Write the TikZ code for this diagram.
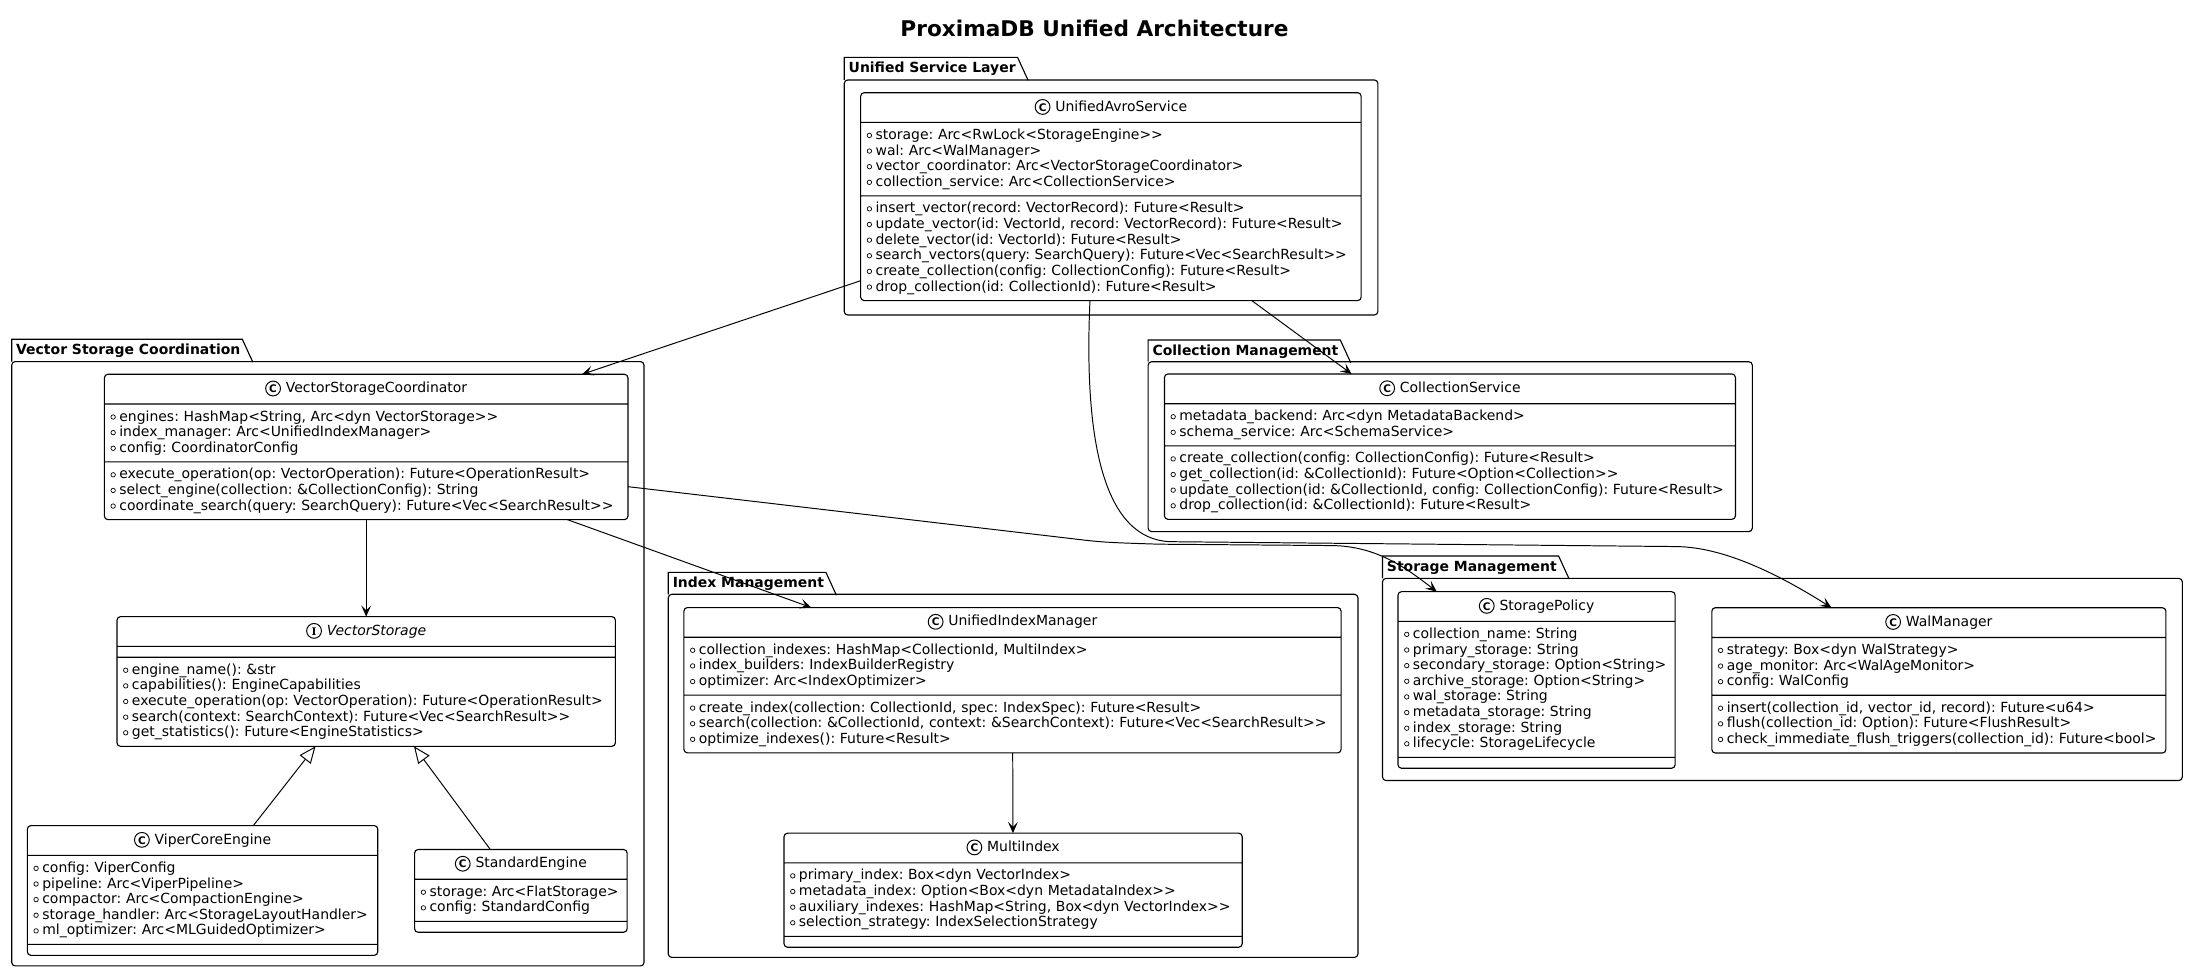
\documentclass[tikz,border=0pt]{standalone}
\usepackage{fontspec}
\setmainfont{DejaVu Sans}
\newfontfamily\iconserif{DejaVu Serif}
\usetikzlibrary{shapes.multipart,arrows.meta}
\setlength{\parindent}{0pt}
\frenchspacing

% text sizes and rows of the class boxes
\newcommand\umlfont{\fontsize{10}{11.2}\selectfont}
\newcommand\umlstrut{\rule[-2.9pt]{0pt}{11.2pt}}
\newcommand\headstrut{\rule[-4.2pt]{0pt}{13.5pt}}
\newcommand\dblgt{>\kern0pt>}
% one member line with its small circle
\newcommand\mem[1]{\umlstrut\kern1.4pt\tikz[baseline={(0,-2.9pt)}]\draw[line width=0.5pt] (0,0) circle (1.6pt);\kern2.6pt\mbox{#1}}
% class header: circled letter and name
\newcommand\uhead[2]{\headstrut\makebox[\hsize]{\tikz[baseline={(0,-3pt)}]\draw[line width=0.7pt] (0,0) circle (5.3pt);\llap{\makebox[11.3pt]{\fontsize{7.5}{7.5}\selectfont\bfseries #1}}\hspace{3.5pt}#2}}
% package: name, label, x0, tab top, body top, x1, y1
\newcommand\umlpackage[7]{%
  \draw[pkgline, rounded corners=2.5pt] (#3,#5) rectangle (#6,#7);
  \node[pkglabel] (#1) at (#3,#4) {#2};
  \draw[pkgline] (#3,#5) -- (#3,#4) -- ([xshift=-1.8pt]#1.north east) -- ([xshift=5.7pt]#1.south east);
}

\begin{document}
\begin{tikzpicture}[x=1pt, y=-1pt,
  umlclass/.style = {rectangle split, rectangle split parts=3, draw, fill=white, line width=0.8pt,
    rounded corners=2.5pt, inner xsep=3pt, inner ysep=3.5pt, outer sep=0pt, align=left,
    anchor=north west, font=\umlfont},
  pkgline/.style = {draw, line width=0.8pt},
  pkglabel/.style = {anchor=north west, inner xsep=3pt, inner ysep=0pt, minimum height=16pt,
    font=\bfseries\fontsize{10}{12}\selectfont},
  dep/.style = {-{Stealth[length=8pt,width=7pt,inset=3.5pt]}, line width=0.7pt},
  ext/.style = {-{Triangle[open,length=12pt,width=10pt,fill=white]}, line width=0.7pt}]
\fill[white] (0,0) rectangle (1568,696);
\useasboundingbox (0,0) rectangle (1568,696);

\node[font=\bfseries\fontsize{15.5}{18}\selectfont] (title) at (784,20.3) {ProximaDB Unified Architecture};

% packages
\umlpackage{usl}{Unified Service Layer}{604.7}{41.1}{57.3}{987}{225.6}
\umlpackage{vsp}{Vector Storage Coordination}{8.4}{243}{259}{461.3}{691.9}
\umlpackage{csp}{Collection Management}{822.4}{243.5}{259.1}{1255.2}{380.8}
\umlpackage{imp}{Index Management}{478.7}{410}{425.7}{972.7}{685.8}
\umlpackage{smp}{Storage Management}{990.3}{398.3}{414.3}{1563.2}{559.1}

% classes
\node[umlclass, text width=352.5pt] (uas) at (616.5,66.4) {\uhead{C}{UnifiedAvroService}
  \nodepart{two}\mem{storage: Arc<RwLock<StorageEngine\dblgt}\\
  \mem{wal: Arc<WalManager>}\\
  \mem{vector\_coordinator: Arc<VectorStorageCoordinator>}\\
  \mem{collection\_service: Arc<CollectionService>}
  \nodepart{three}\mem{insert\_vector(record: VectorRecord): Future<Result>}\\
  \mem{update\_vector(id: VectorId, record: VectorRecord): Future<Result>}\\
  \mem{delete\_vector(id: VectorId): Future<Result>}\\
  \mem{search\_vectors(query: SearchQuery): Future<Vec<SearchResult\dblgt}\\
  \mem{create\_collection(config: CollectionConfig): Future<Result>}\\
  \mem{drop\_collection(id: CollectionId): Future<Result>}};

\node[umlclass, text width=369pt] (vsc) at (74.8,268.1) {\uhead{C}{VectorStorageCoordinator}
  \nodepart{two}\mem{engines: HashMap<String, Arc<dyn VectorStorage\dblgt}\\
  \mem{index\_manager: Arc<UnifiedIndexManager>}\\
  \mem{config: CoordinatorConfig}
  \nodepart{three}\mem{execute\_operation(op: VectorOperation): Future<OperationResult>}\\
  \mem{select\_engine(collection: \&CollectionConfig): String}\\
  \mem{coordinate\_search(query: SearchQuery): Future<Vec<SearchResult\dblgt}};

\node[umlclass, text width=351pt] (vs) at (83.8,441.7) {\uhead{\iconserif I}{\textit{VectorStorage}}
  \nodepart{two}
  \nodepart{three}\mem{engine\_name(): \&str}\\
  \mem{capabilities(): EngineCapabilities}\\
  \mem{execute\_operation(op: VectorOperation): Future<OperationResult>}\\
  \mem{search(context: SearchContext): Future<Vec<SearchResult\dblgt}\\
  \mem{get\_statistics(): Future<EngineStatistics>}};

\node[umlclass, text width=245pt] (vce) at (19.6,591.4) {\uhead{C}{ViperCoreEngine}
  \nodepart{two}\mem{config: ViperConfig}\\
  \mem{pipeline: Arc<ViperPipeline>}\\
  \mem{compactor: Arc<CompactionEngine>}\\
  \mem{storage\_handler: Arc<StorageLayoutHandler>}\\
  \mem{ml\_optimizer: Arc<MLGuidedOptimizer>}
  \nodepart{three}};

\node[umlclass, text width=146.2pt] (se) at (297,608.5) {\uhead{C}{StandardEngine}
  \nodepart{two}\mem{storage: Arc<FlatStorage>}\\
  \mem{config: StandardConfig}
  \nodepart{three}};

\node[umlclass, text width=403pt] (cs) at (834.1,267.9) {\uhead{C}{CollectionService}
  \nodepart{two}\mem{metadata\_backend: Arc<dyn MetadataBackend>}\\
  \mem{schema\_service: Arc<SchemaService>}
  \nodepart{three}\mem{create\_collection(config: CollectionConfig): Future<Result>}\\
  \mem{get\_collection(id: \&CollectionId): Future<Option<Collection\dblgt}\\
  \mem{update\_collection(id: \&CollectionId, config: CollectionConfig): Future<Result>}\\
  \mem{drop\_collection(id: \&CollectionId): Future<Result>}};

\node[umlclass, text width=464.7pt] (uim) at (489.9,435.2) {\uhead{C}{UnifiedIndexManager}
  \nodepart{two}\mem{collection\_indexes: HashMap<CollectionId, MultiIndex>}\\
  \mem{index\_builders: IndexBuilderRegistry}\\
  \mem{optimizer: Arc<IndexOptimizer>}
  \nodepart{three}\mem{create\_index(collection: CollectionId, spec: IndexSpec): Future<Result>}\\
  \mem{search(collection: \&CollectionId, context: \&SearchContext): Future<Vec<SearchResult\dblgt}\\
  \mem{optimize\_indexes(): Future<Result>}};

\node[umlclass, text width=322.2pt] (mi) at (561.6,596.8) {\uhead{C}{MultiIndex}
  \nodepart{two}\mem{primary\_index: Box<dyn VectorIndex>}\\
  \mem{metadata\_index: Option<Box<dyn MetadataIndex\dblgt}\\
  \mem{auxiliary\_indexes: HashMap<String, Box<dyn VectorIndex\dblgt}\\
  \mem{selection\_strategy: IndexSelectionStrategy}
  \nodepart{three}};

\node[umlclass, text width=192.5pt] (sp) at (1001.4,423.8) {\uhead{C}{StoragePolicy}
  \nodepart{two}\mem{collection\_name: String}\\
  \mem{primary\_storage: String}\\
  \mem{secondary\_storage: Option<String>}\\
  \mem{archive\_storage: Option<String>}\\
  \mem{wal\_storage: String}\\
  \mem{metadata\_storage: String}\\
  \mem{index\_storage: String}\\
  \mem{lifecycle: StorageLifecycle}
  \nodepart{three}};

\node[umlclass, text width=319.2pt] (wm) at (1226.2,435.3) {\uhead{C}{WalManager}
  \nodepart{two}\mem{strategy: Box<dyn WalStrategy>}\\
  \mem{age\_monitor: Arc<WalAgeMonitor>}\\
  \mem{config: WalConfig}
  \nodepart{three}\mem{insert(collection\_id, vector\_id, record): Future<u64>}\\
  \mem{flush(collection\_id: Option): Future<FlushResult>}\\
  \mem{check\_immediate\_flush\_triggers(collection\_id): Future<bool>}};

% connectors
\draw[dep] (uas) -- (vsc);
\draw[dep] (uas) -- (cs);
\draw[dep] (vsc) -- (vs);
\draw[dep] (vsc) -- (uim);
\draw[dep] (uim) -- (mi);
\draw[ext] (vce) -- (vs);
\draw[ext] (se) -- (vs);
\draw[dep] ([xshift=164.25pt]uas.south west) .. controls (776,320) and (792,386) .. (838,388)
  -- (1200,391.5) .. controls (1235,391.6) and (1275,412) .. ([xshift=85.7pt]wm.north west);
\draw[dep] ([yshift=-80.5pt]vsc.north east) -- (765,385.5) .. controls (790,388.5) .. (830,389.8)
  -- (955,390.8) .. controls (985,391.5) and (1005,405) .. ([xshift=27.75pt]sp.north west);
\end{tikzpicture}
\end{document}
